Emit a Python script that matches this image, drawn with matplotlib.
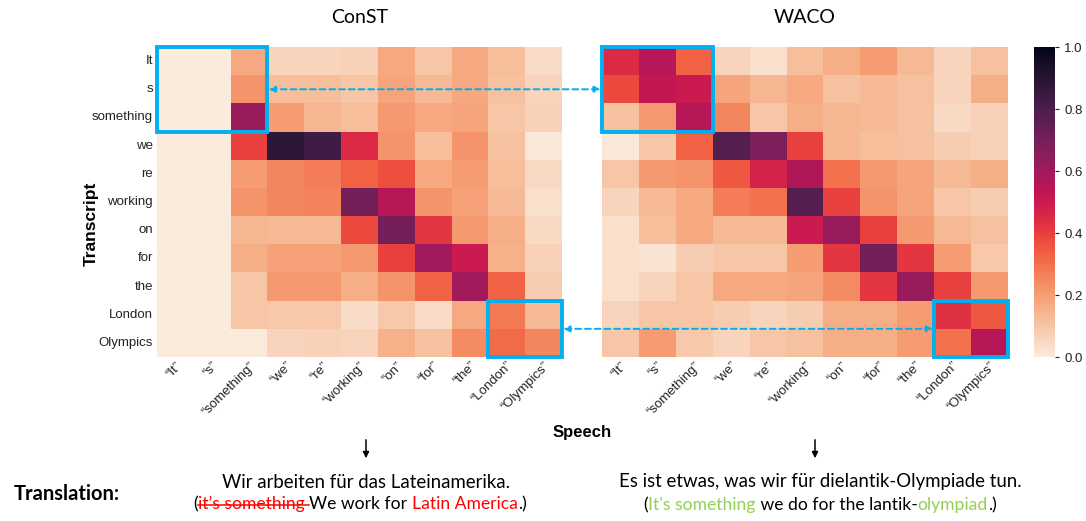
import numpy as np
import matplotlib
matplotlib.use("Agg")
import matplotlib.pyplot as plt
import seaborn as sns
from matplotlib.patches import Rectangle, ConnectionPatch, FancyArrowPatch
from matplotlib.lines import Line2D

words = ["It", "s", "something", "we", "re", "working", "on", "for", "the", "London", "Olympics"]
speech_labels = ["\u201c%s\u201d" % w for w in words]

# attention maps (rows = transcript, cols = speech)
const_att = np.array([
    [0.00, 0.00, 0.17, 0.06, 0.06, 0.07, 0.17, 0.10, 0.17, 0.12, 0.04],
    [0.00, 0.00, 0.22, 0.12, 0.12, 0.10, 0.18, 0.13, 0.17, 0.11, 0.06],
    [0.00, 0.00, 0.62, 0.20, 0.14, 0.12, 0.21, 0.17, 0.18, 0.10, 0.07],
    [0.00, 0.00, 0.40, 0.88, 0.83, 0.45, 0.22, 0.12, 0.22, 0.11, 0.01],
    [0.00, 0.00, 0.20, 0.25, 0.27, 0.33, 0.37, 0.17, 0.20, 0.12, 0.05],
    [0.00, 0.00, 0.22, 0.25, 0.26, 0.70, 0.55, 0.22, 0.19, 0.13, 0.03],
    [0.00, 0.00, 0.14, 0.13, 0.13, 0.38, 0.70, 0.42, 0.21, 0.16, 0.05],
    [0.00, 0.00, 0.16, 0.19, 0.19, 0.21, 0.40, 0.60, 0.50, 0.15, 0.07],
    [0.00, 0.00, 0.10, 0.21, 0.21, 0.16, 0.22, 0.33, 0.60, 0.33, 0.08],
    [0.00, 0.00, 0.10, 0.09, 0.09, 0.04, 0.09, 0.04, 0.17, 0.28, 0.13],
    [0.00, 0.00, 0.00, 0.06, 0.07, 0.06, 0.15, 0.11, 0.24, 0.31, 0.25],
])

waco_att = np.array([
    [0.45, 0.55, 0.33, 0.06, 0.03, 0.12, 0.16, 0.20, 0.13, 0.06, 0.11],
    [0.38, 0.52, 0.50, 0.18, 0.14, 0.17, 0.11, 0.13, 0.11, 0.06, 0.16],
    [0.11, 0.21, 0.55, 0.25, 0.10, 0.16, 0.14, 0.13, 0.11, 0.05, 0.07],
    [0.01, 0.10, 0.33, 0.78, 0.68, 0.40, 0.14, 0.12, 0.11, 0.08, 0.07],
    [0.10, 0.21, 0.22, 0.35, 0.47, 0.57, 0.30, 0.21, 0.18, 0.13, 0.16],
    [0.06, 0.13, 0.17, 0.27, 0.30, 0.78, 0.40, 0.22, 0.18, 0.10, 0.08],
    [0.03, 0.12, 0.17, 0.13, 0.13, 0.50, 0.62, 0.40, 0.21, 0.13, 0.11],
    [0.03, 0.02, 0.08, 0.10, 0.10, 0.20, 0.42, 0.70, 0.42, 0.20, 0.09],
    [0.03, 0.06, 0.10, 0.17, 0.17, 0.18, 0.24, 0.42, 0.62, 0.40, 0.21],
    [0.06, 0.10, 0.10, 0.08, 0.06, 0.08, 0.16, 0.16, 0.20, 0.43, 0.35],
    [0.10, 0.20, 0.09, 0.06, 0.10, 0.11, 0.16, 0.16, 0.20, 0.30, 0.55],
])

BLUE = "#00B0F0"
W, H = 1086, 521
fig = plt.figure(figsize=(W / 100, H / 100), dpi=100)

def px_box(x0, y0, x1, y1):
    return [x0 / W, 1 - y1 / H, (x1 - x0) / W, (y1 - y0) / H]

ax1 = fig.add_axes(px_box(157, 47, 562, 357))
ax2 = fig.add_axes(px_box(602, 47, 1008, 357))
cax = fig.add_axes(px_box(1034, 47, 1055, 357))

sns.heatmap(const_att, ax=ax1, cmap="rocket_r", vmin=0, vmax=1, cbar=False,
            xticklabels=speech_labels, yticklabels=words)
sns.heatmap(waco_att, ax=ax2, cmap="rocket_r", vmin=0, vmax=1, cbar_ax=cax,
            xticklabels=speech_labels, yticklabels=False)

tick_font = "Liberation Sans"
for ax in (ax1, ax2):
    ax.tick_params(length=0, pad=2)
    for lab in ax.get_xticklabels():
        lab.set_rotation(45)
        lab.set_ha("right")
        lab.set_rotation_mode("anchor")
        lab.set_fontsize(9.5)
        lab.set_family(tick_font)
        lab.set_color("#222222")
for lab in ax1.get_yticklabels():
    lab.set_rotation(0)
    lab.set_fontsize(9.5)
    lab.set_family(tick_font)
    lab.set_color("#222222")
ax1.tick_params(axis="y", pad=3)

cax.tick_params(labelsize=9.5, length=3, width=0.8, colors="#222222")
cax.set_yticks([0, 0.2, 0.4, 0.6, 0.8, 1.0])
for lab in cax.get_yticklabels():
    lab.set_family(tick_font)

title_font = "Lato"
ax1.set_title("ConST", fontsize=14, family=title_font, pad=17)
ax2.set_title("WACO", fontsize=14, family=title_font, pad=17)
ax1.set_ylabel("Transcript", fontsize=12.5, fontweight="bold", family=tick_font)
ax1.yaxis.set_label_coords(-0.145, 0.43)

# highlight boxes
for ax, (c, r, w, h) in [(ax1, (0, 0, 3, 3)), (ax1, (9, 9, 2, 2)),
                         (ax2, (0, 0, 3, 3)), (ax2, (9, 9, 2, 2))]:
    ax.add_patch(Rectangle((c, r), w, h, fill=False, edgecolor=BLUE, lw=2.8, clip_on=False, zorder=5))

# dashed links between the boxes
for (xa, ya), (xb, yb) in [((3, 1.5), (0, 1.5)), ((11, 10), (9, 10))]:
    con = ConnectionPatch(xyA=(xa, ya), coordsA=ax1.transData, xyB=(xb, yb), coordsB=ax2.transData,
                          arrowstyle="<|-|>", linestyle=(0, (3, 2)), color=BLUE, lw=1.4,
                          mutation_scale=9, shrinkA=1, shrinkB=1, zorder=6)
    fig.add_artist(con)

fig.text(582 / W, 1 - 432 / H, "Speech", fontsize=12, fontweight="bold", family=tick_font,
         ha="center", va="center")

# down arrows
for xp in (366, 815):
    fig.add_artist(FancyArrowPatch((xp / W, 1 - 437 / H), (xp / W, 1 - 461 / H),
                   transform=fig.transFigure, arrowstyle="-|>", mutation_scale=9, lw=1.1, color="black"))

fig.text(67 / W, 1 - 494 / H, "Translation:", fontsize=14.5, fontweight="bold", family=title_font,
         ha="center", va="center")

renderer = fig.canvas.get_renderer()

def text_width(s, size):
    t = fig.text(0, 0, s, fontsize=size, family=title_font)
    w = t.get_window_extent(renderer).width
    t.remove()
    return w

def rich_line(xc, yc, pieces, size):
    full = "".join(p[0] for p in pieces)
    total = text_width(full, size)
    ref = text_width("I", size)
    x0 = xc - total / 2
    prefix = ""
    for s, col, strike in pieces:
        off = text_width(prefix + "I", size) - ref if prefix else 0
        xs = x0 + off
        fig.text(xs / W, 1 - yc / H, s, fontsize=size, family=title_font, color=col,
                 ha="left", va="center")
        if strike:
            sw = text_width(s + "I", size) - ref
            fig.add_artist(Line2D([xs / W, (xs + sw) / W], [1 - (yc + 1) / H, 1 - (yc + 1) / H],
                                  transform=fig.transFigure, color=col, lw=1.1))
        prefix += s

RED = "#FF0000"
GREEN = "#92D050"
rich_line(366, 482, [("Wir arbeiten f\u00fcr das Lateinamerika.", "black", False)], 13.4)
rich_line(360, 504, [("(", "black", False), ("it\u2019s something ", RED, True),
                     ("We work for ", "black", False), ("Latin America", RED, False),
                     (".)", "black", False)], 12.6)
rich_line(820, 482, [("Es ist etwas, was wir f\u00fcr dielantik-Olympiade tun.", "black", False)], 13.4)
rich_line(820, 505, [("(", "black", False), ("It's something", GREEN, False),
                     (" we do for the lantik-", "black", False), ("olympiad", GREEN, False),
                     (".)", "black", False)], 12.6)

fig.savefig("out.png", dpi=100)
